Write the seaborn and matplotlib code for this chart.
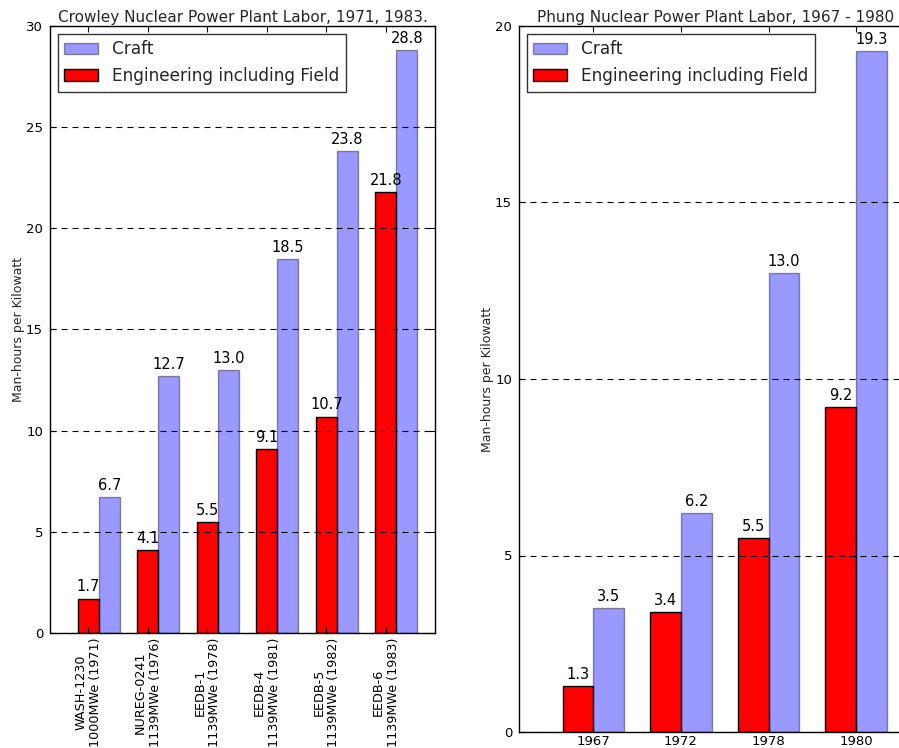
import matplotlib
matplotlib.use("Agg")
import matplotlib.pyplot as plt
import matplotlib.patches as mpatches
import seaborn as sns
import pandas as pd

# Crowley study (1971-1983)
crowley_studies = ["WASH-1230\n1000MWe (1971)", "NUREG-0241\n1139MWe (1976)",
                   "EEDB-1\n1139MWe (1978)", "EEDB-4\n1139MWe (1981)",
                   "EEDB-5\n1139MWe (1982)", "EEDB-6\n1139MWe (1983)"]
crowley_engineering = [1.7, 4.1, 5.5, 9.1, 10.7, 21.8]
crowley_craft = [6.7, 12.7, 13.0, 18.5, 23.8, 28.8]

# Phung study (1967-1980)
phung_years = ["1967", "1972", "1978", "1980"]
phung_engineering = [1.3, 3.4, 5.5, 9.2]
phung_craft = [3.5, 6.2, 13.0, 19.3]

ENG = "Engineering including Field"
CRAFT = "Craft"

sns.set_theme(style="white")
plt.rcParams["font.family"] = ["DejaVu Sans"]


def long_frame(cats, eng, craft):
    rows = []
    for c, e, k in zip(cats, eng, craft):
        rows.append({"cat": c, "series": ENG, "value": e})
        rows.append({"cat": c, "series": CRAFT, "value": k})
    return pd.DataFrame(rows)


def draw_panel(ax, cats, eng, craft, title, ymax, xlim, tick_offset, rotate):
    df = long_frame(cats, eng, craft)
    sns.barplot(data=df, x="cat", y="value", hue="series", order=cats,
                hue_order=[ENG, CRAFT], palette={ENG: "red", CRAFT: "blue"},
                width=0.7, saturation=1, edgecolor="black", linewidth=1,
                errorbar=None, legend=False, ax=ax)
    # Craft bars are translucent blue (face and edge)
    for p in ax.containers[1]:
        p.set_alpha(0.4)
    for cont in ax.containers:
        for p in cont:
            h = p.get_height()
            ax.annotate(f"{h:.1f}", (p.get_x() + p.get_width() / 2, h),
                        xytext=(0, 3), textcoords="offset points",
                        ha="center", va="bottom", fontsize=10.5, color="black")
    ax.set_xlim(*xlim)
    ax.set_ylim(0, ymax)
    ax.set_yticks(range(0, ymax + 1, 5))
    ax.set_xticks([i + tick_offset for i in range(len(cats))])
    ax.set_xlabel("")
    ax.set_ylabel("Man-hours per Kilowatt", fontsize=9, labelpad=1)
    ax.set_title(title, fontsize=11, pad=3)
    ax.set_axisbelow(False)
    ax.yaxis.grid(True, color="black", linestyle=(0, (5.4, 4.5)), linewidth=0.8)
    ax.xaxis.grid(False)
    for s in ax.spines.values():
        s.set_visible(True)
        s.set_color("black")
        s.set_linewidth(1)
    ax.tick_params(axis="both", direction="in", length=4, width=0.8,
                   top=True, right=True, bottom=True, left=True,
                   labelsize=9.5, colors="black", pad=5)
    if rotate:
        ax.set_xticklabels(cats, rotation=90, ha="center", va="top",
                           multialignment="center", fontsize=9.2)
        ax.tick_params(axis="x", pad=3.5)
    else:
        ax.set_xticklabels(cats)
        ax.tick_params(axis="x", pad=2.5)
    handles = [
        mpatches.Patch(facecolor="blue", edgecolor="black", alpha=0.4, label=CRAFT),
        mpatches.Patch(facecolor="red", edgecolor="black", label=ENG),
    ]
    leg = ax.legend(handles=handles, loc="upper left", fontsize=12.2,
                    frameon=True, fancybox=False, borderaxespad=0.45,
                    handlelength=2.0, handleheight=0.7)
    leg.get_frame().set_edgecolor("black")
    leg.get_frame().set_linewidth(1)


fig = plt.figure(figsize=(8.99, 7.48), dpi=100)
ax1 = fig.add_axes([50 / 899, 115 / 748, 385 / 899, 607 / 748])
ax2 = fig.add_axes([519 / 899, 16 / 748, 394 / 899, 706 / 748])

draw_panel(ax1, crowley_studies, crowley_engineering, crowley_craft,
           "Crowley Nuclear Power Plant Labor, 1971, 1983.", 30,
           (-0.82, 5.65), -0.175, True)
draw_panel(ax2, phung_years, phung_engineering, phung_craft,
           "Phung Nuclear Power Plant Labor, 1967 - 1980", 20,
           (-0.85, 3.65), 0.0, False)

fig.savefig("out.png", dpi=100)
